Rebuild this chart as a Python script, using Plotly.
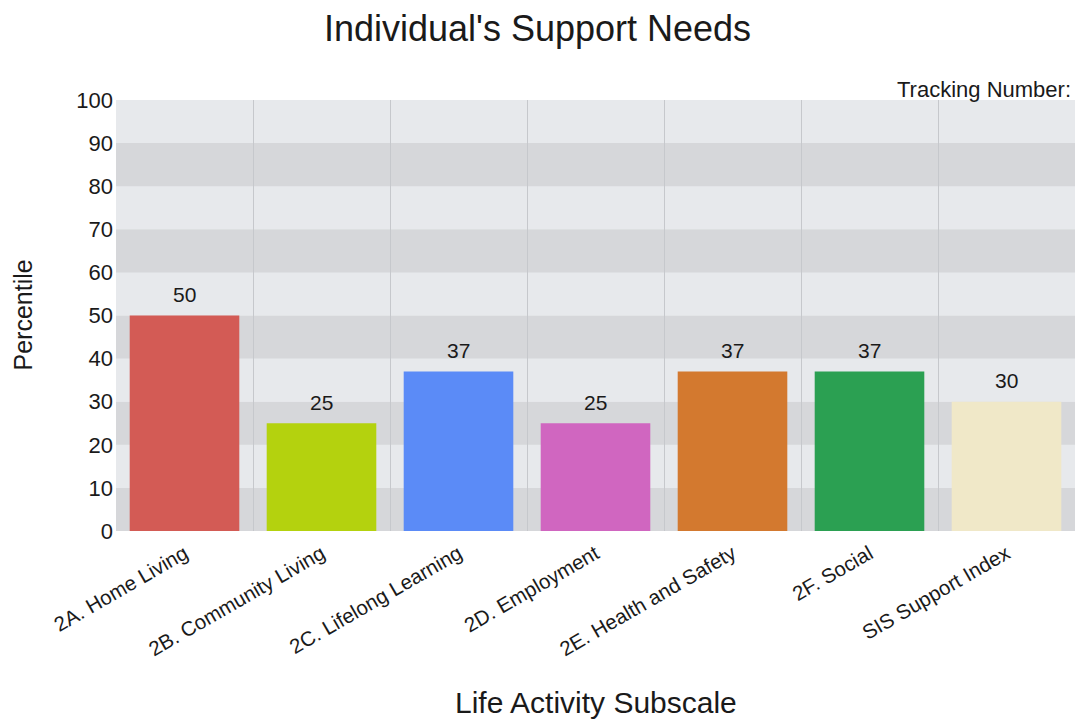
import plotly.graph_objects as go

categories = ["2A. Home Living", "2B. Community Living", "2C. Lifelong Learning",
              "2D. Employment", "2E. Health and Safety", "2F. Social", "SIS Support Index"]
values = [50, 25, 37, 25, 37, 37, 30]
colors = ["#D35B55", "#B4D20E", "#5B8BF7", "#D066C0", "#D3792F", "#2BA052", "#F0E8C8"]
y_ticks = list(range(0, 101, 10))

FONT = "Liberation Sans, Arial, sans-serif"
TXT = "#1a1a1a"

fig = go.Figure()
fig.add_trace(go.Bar(x=categories, y=values, marker=dict(color=colors, line=dict(width=0)),
                     width=0.8, hoverinfo="x+y"))

shapes = []
for i in range(len(y_ticks) - 1):
    shapes.append(dict(type="rect", xref="paper", yref="y", x0=0, x1=1,
                       y0=y_ticks[i], y1=y_ticks[i + 1],
                       fillcolor="#D6D7DA" if i % 2 == 0 else "#E7E9EC",
                       line=dict(width=0), layer="below"))

annotations = []
for c, v in zip(categories, values):
    annotations.append(dict(x=c, y=v, xref="x", yref="y", text=str(v), showarrow=False,
                            yanchor="middle", yshift=21, font=dict(size=21, color=TXT, family=FONT)))
annotations.append(dict(x=1, y=1, xref="paper", yref="paper", text="Tracking Number:",
                        showarrow=False, xanchor="right", yanchor="middle", yshift=11, xshift=-2,
                        font=dict(size=22, color=TXT, family=FONT)))
annotations.append(dict(x=0.5, y=-0.399, xref="paper", yref="paper", text="Life Activity Subscale",
                        showarrow=False, xanchor="center", yanchor="middle",
                        font=dict(size=30, color=TXT, family=FONT)))
annotations.append(dict(x=-0.098, y=0.5, xref="paper", yref="paper", text="Percentile",
                        showarrow=False, xanchor="center", yanchor="middle", textangle=-90,
                        font=dict(size=25, color=TXT, family=FONT)))

fig.update_layout(
    width=1075, height=719,
    margin=dict(l=116, r=0, t=100, b=188),
    paper_bgcolor="white", plot_bgcolor="#E7E9EC",
    showlegend=False,
    title=dict(text="Individual's Support Needs", x=0.5, xref="container", xanchor="center",
               y=1 - 28 / 719, yref="container", yanchor="middle",
               font=dict(size=36, color=TXT, family=FONT)),
    shapes=shapes, annotations=annotations,
    bargap=0.2,
)
fig.update_xaxes(type="category", range=[-0.5, 6.5], tickson="boundaries", showgrid=True,
                 gridcolor="#C6C8CC", gridwidth=1, tickangle=-30, ticks="",
                 ticklabelstandoff=6,
                 tickfont=dict(size=20.5, color=TXT, family=FONT), showline=False, zeroline=False)
fig.update_yaxes(range=[0, 100], tickvals=y_ticks, showgrid=False, zeroline=False, ticks="",
                 tickfont=dict(size=22, color=TXT, family=FONT), showline=False,
                 ticklabelstandoff=2)

fig.write_html("out.html")
